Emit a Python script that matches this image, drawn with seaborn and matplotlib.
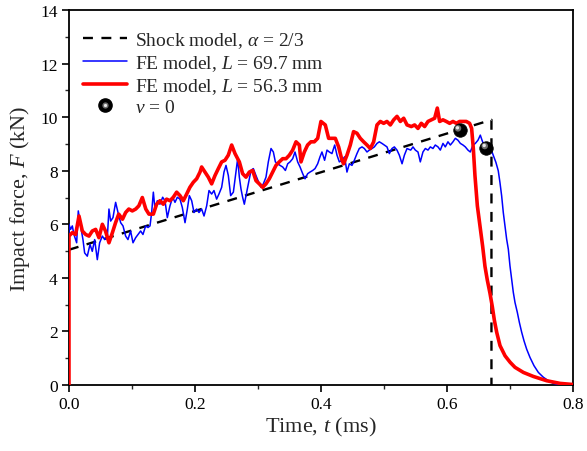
import numpy as np
import pandas as pd
import matplotlib
matplotlib.use("Agg")
import matplotlib.pyplot as plt
import matplotlib.transforms as mtransforms
from matplotlib.lines import Line2D
from matplotlib.legend_handler import HandlerTuple
from matplotlib.ticker import MultipleLocator
import seaborn as sns

# ---------------- data ----------------
shock_t = [0.0, 0.671, 0.671]
shock_F = [5.05, 9.9, 0.0]

blue_t = [0.0, 0.0, 0.0026, 0.0053, 0.0079, 0.0122, 0.0148, 0.0185, 0.0222, 0.0249, 0.0291,
          0.0334, 0.037, 0.0408, 0.045, 0.0487, 0.053, 0.0567, 0.0609, 0.0635, 0.0662,
          0.0699, 0.0741, 0.0779, 0.0821, 0.0858, 0.09, 0.0937, 0.0979, 0.1017, 0.1059,
          0.1096, 0.1138, 0.1175, 0.1218, 0.1255,
          0.1287, 0.1313, 0.134, 0.1366, 0.1403, 0.1445, 0.1488, 0.1525, 0.1562, 0.1604,
          0.1647, 0.1684, 0.1721, 0.1763, 0.18, 0.1843, 0.188, 0.1912, 0.1949, 0.1986,
          0.2028, 0.2065, 0.2107, 0.2145, 0.2187, 0.2224, 0.2266, 0.2303, 0.2345, 0.2382,
          0.2425, 0.2462, 0.2494, 0.2531, 0.2568, 0.2611,
          0.2652, 0.2679, 0.2706, 0.2732, 0.2758, 0.2785, 0.2822, 0.2854, 0.2891, 0.2928,
          0.297, 0.3013, 0.305, 0.3087, 0.3129, 0.3166, 0.3209, 0.3246, 0.3278, 0.3315,
          0.3352, 0.3394, 0.3437, 0.3474, 0.3511, 0.3553, 0.359, 0.3632, 0.367, 0.3712,
          0.3749, 0.3791, 0.3828, 0.3871, 0.3908, 0.395, 0.3987,
          0.4018, 0.406, 0.4098, 0.4135, 0.4177, 0.422, 0.4257, 0.4294, 0.4336, 0.4378,
          0.4415, 0.4453, 0.4495, 0.4532, 0.4574, 0.4611, 0.4654, 0.4691, 0.4733, 0.477,
          0.4813, 0.485, 0.4892, 0.4929, 0.4971, 0.5009, 0.5051, 0.5088, 0.513, 0.5168,
          0.521, 0.5247, 0.529, 0.5327, 0.5369,
          0.5427, 0.5464, 0.5501, 0.5543, 0.558, 0.5622, 0.566, 0.5702, 0.5739, 0.5781,
          0.5818, 0.5861, 0.5898, 0.594, 0.5977, 0.6019, 0.6057, 0.6099, 0.6136, 0.6178,
          0.6216, 0.6258, 0.6295, 0.6337, 0.6374, 0.6417, 0.6454, 0.6496, 0.6533, 0.656,
          0.6602, 0.6655, 0.6708,
          0.6781, 0.6818, 0.6845, 0.6872, 0.6898, 0.6925, 0.6951, 0.6978, 0.7004, 0.7031,
          0.7057, 0.7084, 0.7121, 0.7153, 0.719, 0.7227, 0.7269, 0.7322, 0.7386, 0.7455,
          0.7534, 0.7614, 0.7693, 0.78]
blue_F = [0.0, 6.0, 5.81, 5.94, 5.62, 5.31, 6.5, 5.94, 5.43, 4.93, 4.81,
          5.25, 4.99, 5.43, 4.68, 5.31, 5.56, 5.43, 5.5, 6.57, 6.12,
          6.25, 6.82, 6.44, 6.06, 5.94, 5.56, 5.43, 5.75, 5.31, 5.5,
          5.62, 5.75, 5.62, 5.94, 5.88,
          5.94, 6.44, 7.2, 6.57, 6.88, 6.75, 7.01, 6.88, 6.25, 6.69,
          7.01, 6.82, 7.01, 6.94, 6.63, 6.06, 6.57, 7.07, 6.88, 6.44,
          6.57, 6.44, 6.57, 6.31, 6.69, 7.26, 7.13, 7.26, 6.94, 7.13,
          7.38, 7.95, 8.2, 7.82, 7.07, 7.2,
          7.95, 8.45, 7.76, 7.32, 7.01, 6.75, 7.2, 7.57, 8.01, 8.08,
          7.82, 7.57, 7.38, 7.51, 7.76, 8.33, 8.83, 8.7, 8.33, 8.26,
          8.2, 8.14, 8.01, 8.26, 8.33, 8.45, 8.7, 8.33, 8.14, 7.89,
          7.7, 7.89, 7.95, 8.01, 8.08, 8.26, 8.52,
          8.7, 8.39, 8.77, 8.7, 8.64, 8.96, 8.58, 8.33, 8.39, 8.52,
          7.95, 8.26, 8.2, 8.39, 8.64, 8.83, 8.89, 8.83, 8.7, 8.77,
          8.83, 8.89, 9.02, 9.08, 9.02, 8.96, 8.89, 8.64, 8.83, 8.89,
          8.77, 8.58, 8.26, 8.58, 8.83,
          8.77, 8.89, 8.77, 8.7, 8.33, 8.7, 8.83, 8.77, 8.89, 8.83,
          8.96, 8.89, 8.77, 9.02, 8.89, 9.08, 8.96, 9.08, 9.21, 9.14,
          9.02, 8.96, 8.89, 8.77, 8.7, 8.96, 9.02, 9.14, 9.33, 9.14,
          8.89, 8.89, 8.77,
          8.31, 8.0, 7.56, 7.06, 6.44, 5.94, 5.45, 5.07, 4.45, 3.96,
          3.46, 3.08, 2.71, 2.34, 1.97, 1.65, 1.34, 1.03, 0.72, 0.47,
          0.29, 0.16, 0.06, 0.0]

red_t = [0.0, 0.0, 0.0053, 0.0106, 0.0159, 0.0212, 0.0265, 0.0318, 0.037, 0.0424, 0.0476,
         0.053, 0.058, 0.0635, 0.069, 0.074, 0.079, 0.085, 0.09, 0.095, 0.1006,
         0.106, 0.111, 0.1165, 0.122, 0.127,
         0.134, 0.1392, 0.1445, 0.1498, 0.155, 0.1604, 0.1657, 0.171, 0.1763, 0.1816,
         0.1869, 0.192, 0.1975, 0.2028, 0.2081, 0.2107, 0.216, 0.2213, 0.2266, 0.2319,
         0.2372, 0.2425, 0.2478, 0.253, 0.2584, 0.2637,
         0.2706, 0.2758, 0.2811, 0.2864, 0.2917, 0.297, 0.3023, 0.3076, 0.3129, 0.3182,
         0.3235, 0.3288, 0.334, 0.3394, 0.3447, 0.35, 0.3553, 0.3606, 0.3659, 0.3685,
         0.3738, 0.379, 0.3843, 0.3896, 0.395, 0.4002,
         0.4071, 0.4124, 0.4177, 0.423, 0.4283, 0.4336, 0.4362, 0.4415, 0.4468, 0.452,
         0.4574, 0.4627, 0.468, 0.4733, 0.4786, 0.4839, 0.4892, 0.4945, 0.4998, 0.505,
         0.5104, 0.5157, 0.521, 0.5263, 0.5316, 0.5369,
         0.5437, 0.549, 0.5543, 0.5596, 0.5649, 0.5702, 0.5755, 0.5808, 0.585, 0.5887,
         0.594, 0.5993, 0.6046, 0.6099, 0.6152, 0.6205, 0.6258, 0.631, 0.6363,
         0.6395, 0.6422, 0.6448, 0.6486, 0.6528, 0.657, 0.6607, 0.6644, 0.6687, 0.6724,
         0.6756, 0.6793, 0.6846, 0.6926, 0.7006, 0.7084, 0.7217, 0.7375, 0.7587, 0.78, 0.8]
red_F = [0.0, 5.56, 5.69, 5.62, 6.31, 5.75, 5.62, 5.56, 5.75, 5.81, 5.5,
         6.0, 5.75, 5.31, 5.69, 6.06, 6.38, 6.19, 6.44, 6.57, 6.5,
         6.57, 6.69, 7.0, 6.57, 6.38,
         6.38, 6.75, 6.88, 6.75, 6.94, 6.88, 7.01, 7.2, 7.07, 6.88,
         7.13, 7.38, 7.57, 7.7, 7.95, 8.14, 7.95, 7.76, 7.51, 7.82,
         8.08, 8.33, 8.39, 8.58, 8.96, 8.64,
         8.33, 7.89, 7.76, 7.95, 8.01, 7.63, 7.51, 7.38, 7.51, 7.7,
         7.95, 8.2, 8.33, 8.45, 8.45, 8.58, 8.77, 9.08, 8.96, 8.33,
         8.7, 8.96, 9.08, 9.08, 9.21, 9.84,
         9.71, 9.21, 9.21, 9.21, 8.89, 8.39, 8.26, 8.58, 8.96, 9.46,
         9.4, 9.21, 9.08, 8.96, 8.83, 9.08, 9.71, 9.84, 9.77, 9.84,
         9.71, 9.9, 10.03, 9.84, 9.96, 9.71,
         9.65, 9.71, 9.58, 9.77, 9.65, 9.84, 9.9, 9.96, 10.34, 9.84,
         9.9, 9.84, 9.77, 9.84, 9.77, 9.84, 9.84, 9.84, 9.77,
         9.58, 8.83, 7.82, 6.69, 5.94, 5.18, 4.43, 3.92, 3.42, 2.92,
         2.42, 1.97, 1.47, 1.09, 0.85, 0.66, 0.47, 0.32, 0.16, 0.06, 0.02]

stop_t = [0.6205, 0.663]
stop_F = [9.52, 8.86]

labels = ["Shock model, $\\alpha$ = 2/3",
          "FE model, $L$ = 69.7 mm",
          "FE model, $L$ = 56.3 mm",
          "$v$ = 0"]

# ---------------- style ----------------
sns.set_style("ticks")
plt.rcParams['font.family'] = ['Liberation Serif', 'DejaVu Serif']
plt.rcParams['mathtext.fontset'] = 'custom'
plt.rcParams['mathtext.rm'] = 'Liberation Serif'
plt.rcParams['mathtext.it'] = 'Liberation Serif:italic'
plt.rcParams['mathtext.bf'] = 'Liberation Serif:bold'

fig = plt.figure(figsize=(5.87, 4.52), dpi=100)
ax = fig.add_axes([0.1175, 0.146, 0.8581, 0.8296])

shock = pd.DataFrame({"t": shock_t, "F": shock_F})
blue = pd.DataFrame({"t": blue_t, "F": blue_F})
red = pd.DataFrame({"t": red_t, "F": red_F})
stops = pd.DataFrame({"t": stop_t, "F": stop_F})

sns.lineplot(data=shock, x="t", y="F", sort=False, estimator=None, ax=ax,
             color="black", lw=1.7, linestyle=(0, (4.2, 3.6)), zorder=2)
sns.lineplot(data=blue, x="t", y="F", sort=False, estimator=None, ax=ax,
             color="#0000ff", lw=1.1, zorder=3)
sns.lineplot(data=red, x="t", y="F", sort=False, estimator=None, ax=ax,
             color="#ff0000", lw=2.6, zorder=4)

# spheres: black ball with soft highlight
sns.scatterplot(data=stops, x="t", y="F", ax=ax, s=95, color="black",
                edgecolor="black", linewidth=0.5, zorder=5)
off1 = ax.transData + mtransforms.ScaledTranslation(-1.2 / 72, 1.2 / 72, fig.dpi_scale_trans)
off2 = ax.transData + mtransforms.ScaledTranslation(-1.6 / 72, 1.6 / 72, fig.dpi_scale_trans)
ax.scatter(stops["t"], stops["F"], s=22, color="#6e6e6e", edgecolor="none",
           transform=off1, zorder=6)
ax.scatter(stops["t"], stops["F"], s=6, color="#e8e8e8", edgecolor="none",
           transform=off2, zorder=7)

# ---------------- axes ----------------
ax.set_xlim(0, 0.8)
ax.set_ylim(0, 14)
ax.xaxis.set_major_locator(MultipleLocator(0.2))
ax.xaxis.set_minor_locator(MultipleLocator(0.1))
ax.yaxis.set_major_locator(MultipleLocator(2))
ax.yaxis.set_minor_locator(MultipleLocator(1))
ax.set_xticklabels([f"{v:.1f}" for v in ax.get_xticks()])
ax.tick_params(which="major", direction="out", length=5, width=1.2, labelsize=12.5,
               colors="black", pad=3)
ax.tick_params(which="minor", direction="out", length=3, width=1.0)
for side in ["top", "right", "left", "bottom"]:
    ax.spines[side].set_visible(True)
    ax.spines[side].set_linewidth(1.3)
    ax.spines[side].set_color("black")
ax.set_xlabel("Time, $t$ (ms)", fontsize=16, labelpad=2)
ax.set_ylabel("Impact force, $F$ (kN)", fontsize=16, labelpad=6)

h_shock = Line2D([], [], color="black", lw=1.7, linestyle=(0, (4.2, 3.6)))
h_blue = Line2D([], [], color="#0000ff", lw=1.1)
h_red = Line2D([], [], color="#ff0000", lw=2.6)
h_ball = (Line2D([], [], ls="none", marker="o", ms=9.5, color="black"),
          Line2D([], [], ls="none", marker="o", ms=4.5, color="#6e6e6e", mec="none"),
          Line2D([], [], ls="none", marker="o", ms=2.3, color="#e8e8e8", mec="none"))
ax.legend([h_shock, h_blue, h_red, h_ball], labels,
          handler_map={tuple: HandlerTuple(ndivide=1, pad=0)},
          loc="upper left", bbox_to_anchor=(0.0, 0.982), frameon=False,
          fontsize=14, handlelength=2.3, handletextpad=0.4, labelspacing=0.15,
          borderaxespad=0.3)

fig.savefig("out.png", dpi=100)
